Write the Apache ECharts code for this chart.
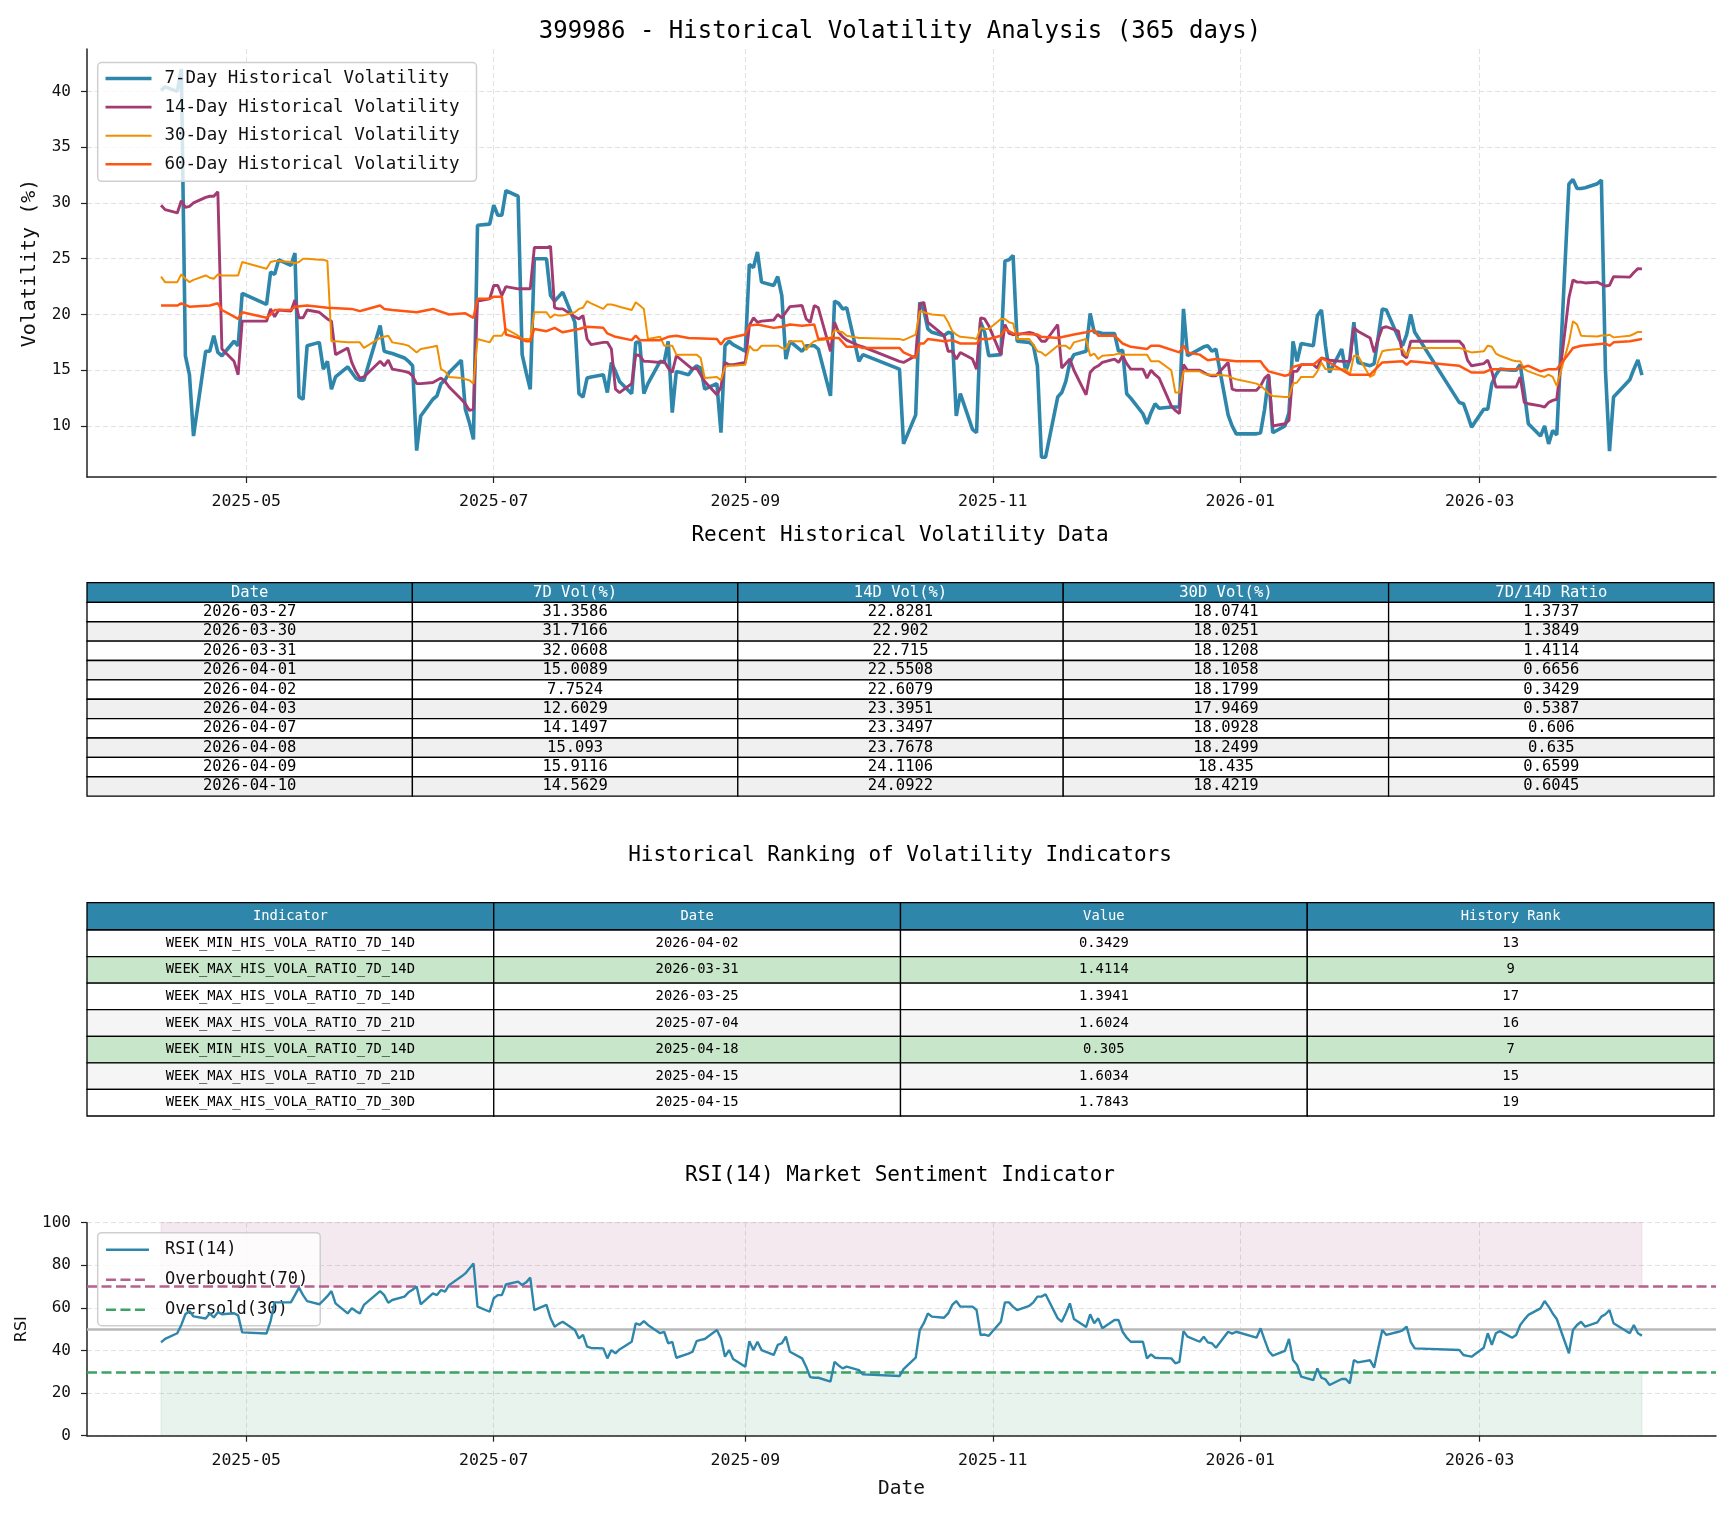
<!DOCTYPE html>
<html><head><meta charset="utf-8">
<script src="https://cdn.jsdelivr.net/npm/echarts@6/dist/echarts.min.js"></script>
<style>html,body{margin:0;padding:0;background:#fff}#c{width:1729px;height:1513px}</style>
</head><body><div id="c"></div>
<script>
// ---------------- DATA ----------------
const titleMain = '399986 - Historical Volatility Analysis (365 days)';
const titleTable1 = 'Recent Historical Volatility Data';
const titleTable2 = 'Historical Ranking of Volatility Indicators';
const titleRsi = 'RSI(14) Market Sentiment Indicator';
const seriesNames = ['7-Day Historical Volatility','14-Day Historical Volatility','30-Day Historical Volatility','60-Day Historical Volatility'];

const vol7 = [
['2025-04-10',40.1],['2025-04-11',40.4],['2025-04-14',40.0],['2025-04-15',42.0],['2025-04-16',16.3],['2025-04-17',14.6],['2025-04-18',9.1],
['2025-04-21',16.7],['2025-04-22',16.7],['2025-04-23',18.1],['2025-04-24',16.6],['2025-04-25',16.3],['2025-04-28',17.6],['2025-04-29',17.2],['2025-04-30',21.9],
['2025-05-06',20.9],['2025-05-07',23.8],['2025-05-08',23.6],['2025-05-09',24.9],['2025-05-12',24.4],['2025-05-13',25.5],['2025-05-14',12.6],['2025-05-15',12.4],
['2025-05-16',17.2],['2025-05-19',17.5],['2025-05-20',15.1],['2025-05-21',15.8],['2025-05-22',13.3],['2025-05-23',14.4],['2025-05-26',15.3],['2025-05-27',14.8],
['2025-05-28',14.3],['2025-05-29',14.1],['2025-05-30',14.1],['2025-06-03',19.0],['2025-06-04',16.7],['2025-06-05',16.6],['2025-06-06',16.5],['2025-06-09',16.1],
['2025-06-10',15.8],['2025-06-11',15.4],['2025-06-12',7.8],['2025-06-13',10.9],['2025-06-16',12.4],['2025-06-17',12.7],['2025-06-18',13.8],['2025-06-19',14.1],
['2025-06-20',14.8],['2025-06-23',15.9],['2025-06-24',11.5],['2025-06-25',10.3],['2025-06-26',8.8],['2025-06-27',28.0],['2025-06-30',28.1],['2025-07-01',29.8],
['2025-07-02',28.9],['2025-07-03',28.9],['2025-07-04',31.1],['2025-07-07',30.6],['2025-07-08',16.4],['2025-07-09',14.8],['2025-07-10',13.3],['2025-07-11',25.0],
['2025-07-14',25.0],['2025-07-15',21.7],['2025-07-16',21.2],['2025-07-17',21.6],['2025-07-18',22.0],['2025-07-21',19.3],['2025-07-22',12.9],['2025-07-23',12.6],
['2025-07-24',14.3],['2025-07-25',14.4],['2025-07-28',14.6],['2025-07-29',13.0],['2025-07-30',15.7],['2025-07-31',14.9],['2025-08-01',14.0],['2025-08-04',12.9],
['2025-08-05',17.5],['2025-08-06',17.5],['2025-08-07',12.9],['2025-08-08',13.8],['2025-08-11',15.8],['2025-08-12',15.7],['2025-08-13',17.6],['2025-08-14',11.2],
['2025-08-15',14.9],['2025-08-18',14.6],['2025-08-19',15.1],['2025-08-20',15.4],['2025-08-21',15.2],['2025-08-22',13.3],['2025-08-25',13.8],['2025-08-26',9.4],
['2025-08-27',17.2],['2025-08-28',17.6],['2025-08-29',17.3],['2025-09-01',16.7],['2025-09-02',24.5],['2025-09-03',24.2],['2025-09-04',25.6],['2025-09-05',22.9],
['2025-09-08',22.6],['2025-09-09',23.4],['2025-09-10',21.7],['2025-09-11',16.0],['2025-09-12',17.6],['2025-09-15',16.7],['2025-09-16',17.2],['2025-09-17',17.2],
['2025-09-18',17.2],['2025-09-19',16.9],['2025-09-22',12.7],['2025-09-23',21.2],['2025-09-24',21.0],['2025-09-25',20.5],['2025-09-26',20.6],['2025-09-29',15.8],
['2025-09-30',16.4],['2025-10-09',15.1],['2025-10-10',8.4],['2025-10-13',11.0],['2025-10-14',21.1],['2025-10-15',20.4],['2025-10-16',18.7],['2025-10-17',18.4],
['2025-10-20',18.1],['2025-10-21',18.4],['2025-10-22',18.3],['2025-10-23',10.9],['2025-10-24',12.9],['2025-10-27',9.7],['2025-10-28',9.4],['2025-10-29',19.3],
['2025-10-30',18.4],['2025-10-31',16.3],['2025-11-03',16.4],['2025-11-04',24.8],['2025-11-05',24.9],['2025-11-06',25.3],['2025-11-07',17.6],['2025-11-10',17.5],
['2025-11-11',17.2],['2025-11-12',15.4],['2025-11-13',7.2],['2025-11-14',7.2],['2025-11-17',12.6],['2025-11-18',13.0],['2025-11-19',14.0],['2025-11-20',15.7],
['2025-11-21',16.4],['2025-11-24',16.7],['2025-11-25',20.1],['2025-11-26',18.4],['2025-11-27',18.4],['2025-11-28',18.3],['2025-12-01',18.3],['2025-12-02',16.7],
['2025-12-03',16.8],['2025-12-04',12.9],['2025-12-05',12.5],['2025-12-08',11.1],['2025-12-09',10.2],['2025-12-10',11.2],['2025-12-11',12.0],['2025-12-12',11.6],
['2025-12-15',11.7],['2025-12-16',11.7],['2025-12-17',11.7],['2025-12-18',20.5],['2025-12-19',16.3],['2025-12-22',16.9],['2025-12-23',17.1],['2025-12-24',17.2],
['2025-12-25',16.7],['2025-12-26',16.9],['2025-12-29',11.0],['2025-12-30',10.0],['2025-12-31',9.3],['2026-01-05',9.3],['2026-01-06',9.4],['2026-01-07',11.5],
['2026-01-08',14.5],['2026-01-09',9.4],['2026-01-12',10.0],['2026-01-13',11.2],['2026-01-14',17.6],['2026-01-15',15.8],['2026-01-16',17.4],['2026-01-19',17.2],
['2026-01-20',19.9],['2026-01-21',20.4],['2026-01-22',17.2],['2026-01-23',14.8],['2026-01-26',16.9],['2026-01-27',14.9],['2026-01-28',16.0],['2026-01-29',19.3],
['2026-01-30',15.7],['2026-02-02',15.4],['2026-02-03',15.6],['2026-02-04',18.0],['2026-02-05',20.5],['2026-02-06',20.4],['2026-02-09',17.9],['2026-02-10',17.2],
['2026-02-11',18.2],['2026-02-12',20.0],['2026-02-13',18.4],['2026-02-24',12.1],['2026-02-25',12.0],['2026-02-26',11.0],['2026-02-27',9.9],['2026-03-02',11.5],
['2026-03-03',11.5],['2026-03-04',13.8],['2026-03-05',14.6],['2026-03-06',15.1],['2026-03-09',15.0],['2026-03-10',15.0],['2026-03-11',15.5],['2026-03-12',13.0],
['2026-03-13',10.2],['2026-03-16',9.1],['2026-03-17',10.0],['2026-03-18',8.4],['2026-03-19',9.6],['2026-03-20',9.2],['2026-03-23',31.7],['2026-03-24',32.1],
['2026-03-25',31.3],['2026-03-26',31.3],['2026-03-27',31.3586],['2026-03-30',31.7166],['2026-03-31',32.0608],['2026-04-01',15.0089],['2026-04-02',7.7524],
['2026-04-03',12.6029],['2026-04-07',14.1497],['2026-04-08',15.093],['2026-04-09',15.9116],['2026-04-10',14.5629]
];

const vol14 = [
['2025-04-10',29.8],['2025-04-11',29.4],['2025-04-14',29.1],['2025-04-15',30.2],['2025-04-16',29.6],['2025-04-17',29.7],['2025-04-18',30.0],['2025-04-21',30.5],
['2025-04-22',30.6],['2025-04-23',30.6],['2025-04-24',31.0],['2025-04-25',16.9],['2025-04-28',15.8],['2025-04-29',14.6],['2025-04-30',19.4],['2025-05-06',19.4],
['2025-05-07',20.5],['2025-05-08',19.8],['2025-05-09',20.4],['2025-05-12',20.3],['2025-05-13',21.3],['2025-05-14',19.7],['2025-05-15',19.7],['2025-05-16',20.4],
['2025-05-19',20.2],['2025-05-20',19.9],['2025-05-21',19.6],['2025-05-22',19.4],['2025-05-23',16.4],['2025-05-26',17.0],['2025-05-27',15.7],['2025-05-28',14.9],
['2025-05-29',14.3],['2025-05-30',14.4],['2025-06-03',15.8],['2025-06-04',15.4],['2025-06-05',15.9],['2025-06-06',15.1],['2025-06-09',14.9],['2025-06-10',14.8],
['2025-06-11',14.5],['2025-06-12',13.8],['2025-06-13',13.8],['2025-06-16',13.9],['2025-06-17',14.1],['2025-06-18',14.3],['2025-06-19',14.0],['2025-06-20',13.5],
['2025-06-23',12.4],['2025-06-24',12.0],['2025-06-25',11.4],['2025-06-26',11.5],['2025-06-27',21.2],['2025-06-30',21.4],['2025-07-01',22.6],['2025-07-02',22.6],
['2025-07-03',21.7],['2025-07-04',22.5],['2025-07-07',22.3],['2025-07-08',22.3],['2025-07-09',22.3],['2025-07-10',22.3],['2025-07-11',26.0],['2025-07-14',26.0],
['2025-07-15',26.1],['2025-07-16',20.6],['2025-07-17',20.5],['2025-07-18',20.5],['2025-07-21',19.8],['2025-07-22',19.6],['2025-07-23',19.9],['2025-07-24',17.8],
['2025-07-25',17.3],['2025-07-28',17.5],['2025-07-29',17.5],['2025-07-30',16.9],['2025-07-31',13.3],['2025-08-01',13.0],['2025-08-04',13.8],['2025-08-05',16.4],
['2025-08-06',16.3],['2025-08-07',15.8],['2025-08-08',15.8],['2025-08-11',15.7],['2025-08-12',15.8],['2025-08-13',15.2],['2025-08-14',14.8],['2025-08-15',16.3],
['2025-08-18',15.4],['2025-08-19',15.1],['2025-08-20',15.2],['2025-08-21',14.6],['2025-08-22',14.0],['2025-08-25',12.8],['2025-08-26',13.5],['2025-08-27',15.7],
['2025-08-28',15.5],['2025-08-29',15.5],['2025-09-01',15.7],['2025-09-02',19.0],['2025-09-03',19.7],['2025-09-04',19.3],['2025-09-05',19.4],['2025-09-08',19.5],
['2025-09-09',20.0],['2025-09-10',19.7],['2025-09-11',20.2],['2025-09-12',20.7],['2025-09-15',20.8],['2025-09-16',19.6],['2025-09-17',19.3],['2025-09-18',20.8],
['2025-09-19',20.6],['2025-09-22',16.7],['2025-09-23',19.3],['2025-09-24',18.4],['2025-09-25',18.0],['2025-09-26',17.7],['2025-09-29',17.2],['2025-09-30',17.1],
['2025-10-09',15.8],['2025-10-10',15.7],['2025-10-13',16.3],['2025-10-14',20.9],['2025-10-15',21.1],['2025-10-16',19.3],['2025-10-17',19.0],['2025-10-20',18.1],
['2025-10-21',16.7],['2025-10-22',16.7],['2025-10-23',16.0],['2025-10-24',16.6],['2025-10-27',16.0],['2025-10-28',15.1],['2025-10-29',19.7],['2025-10-30',19.6],
['2025-10-31',19.0],['2025-11-03',16.4],['2025-11-04',19.1],['2025-11-05',18.3],['2025-11-06',18.2],['2025-11-07',18.2],['2025-11-10',18.4],['2025-11-11',18.3],
['2025-11-12',18.1],['2025-11-13',17.6],['2025-11-14',17.6],['2025-11-17',19.1],['2025-11-18',15.2],['2025-11-19',15.6],['2025-11-20',16.0],['2025-11-21',15.0],
['2025-11-24',12.8],['2025-11-25',14.8],['2025-11-26',15.2],['2025-11-27',15.4],['2025-11-28',15.7],['2025-12-01',16.0],['2025-12-02',15.7],['2025-12-03',16.3],
['2025-12-04',15.6],['2025-12-05',15.1],['2025-12-08',15.1],['2025-12-09',14.3],['2025-12-10',15.0],['2025-12-11',14.6],['2025-12-12',14.3],['2025-12-15',11.8],
['2025-12-16',11.4],['2025-12-17',11.1],['2025-12-18',15.5],['2025-12-19',15.0],['2025-12-22',15.0],['2025-12-23',14.8],['2025-12-24',14.6],['2025-12-25',14.5],
['2025-12-26',14.5],['2025-12-29',15.7],['2025-12-30',13.3],['2025-12-31',13.2],['2026-01-05',13.2],['2026-01-06',13.6],['2026-01-07',14.3],['2026-01-08',14.6],
['2026-01-09',10.0],['2026-01-12',10.2],['2026-01-13',10.5],['2026-01-14',14.9],['2026-01-15',14.9],['2026-01-16',15.5],['2026-01-19',15.5],['2026-01-20',15.2],
['2026-01-21',16.1],['2026-01-22',16.0],['2026-01-23',15.9],['2026-01-26',15.8],['2026-01-27',15.8],['2026-01-28',15.8],['2026-01-29',18.8],['2026-01-30',18.5],
['2026-02-02',17.9],['2026-02-03',16.6],['2026-02-04',17.8],['2026-02-05',18.8],['2026-02-06',18.9],['2026-02-09',18.5],['2026-02-10',16.4],['2026-02-11',16.1],
['2026-02-12',17.6],['2026-02-13',17.6],['2026-02-24',17.6],['2026-02-25',17.2],['2026-02-26',15.9],['2026-02-27',15.4],['2026-03-02',15.6],['2026-03-03',15.9],
['2026-03-04',14.9],['2026-03-05',13.5],['2026-03-06',13.5],['2026-03-09',13.5],['2026-03-10',13.5],['2026-03-11',14.4],['2026-03-12',12.1],['2026-03-13',12.0],
['2026-03-16',11.8],['2026-03-17',11.7],['2026-03-18',12.1],['2026-03-19',12.3],['2026-03-20',12.4],['2026-03-23',21.5],['2026-03-24',23.1],['2026-03-25',22.9],
['2026-03-26',22.9],['2026-03-27',22.8281],['2026-03-30',22.902],['2026-03-31',22.715],['2026-04-01',22.5508],['2026-04-02',22.6079],['2026-04-03',23.3951],
['2026-04-07',23.3497],['2026-04-08',23.7678],['2026-04-09',24.1106],['2026-04-10',24.0922]
];

const vol30 = [
['2025-04-10',23.4],['2025-04-11',22.9],['2025-04-14',22.9],['2025-04-15',23.6],['2025-04-16',23.2],['2025-04-17',22.9],['2025-04-18',23.1],['2025-04-21',23.5],
['2025-04-22',23.3],['2025-04-23',23.2],['2025-04-24',23.6],['2025-04-25',23.5],['2025-04-28',23.5],['2025-04-29',23.5],['2025-04-30',24.7],['2025-05-06',24.1],
['2025-05-07',24.7],['2025-05-08',24.8],['2025-05-09',24.8],['2025-05-12',24.7],['2025-05-13',24.6],['2025-05-14',24.7],['2025-05-15',25.0],['2025-05-16',25.0],
['2025-05-19',24.9],['2025-05-20',24.9],['2025-05-21',24.8],['2025-05-22',17.6],['2025-05-23',17.6],['2025-05-26',17.5],['2025-05-27',17.5],['2025-05-28',17.5],
['2025-05-29',17.5],['2025-05-30',17.0],['2025-06-03',17.9],['2025-06-04',18.0],['2025-06-05',18.1],['2025-06-06',17.5],['2025-06-09',17.3],['2025-06-10',17.2],
['2025-06-11',16.9],['2025-06-12',16.6],['2025-06-13',16.9],['2025-06-16',17.1],['2025-06-17',17.2],['2025-06-18',15.1],['2025-06-19',14.9],['2025-06-20',14.4],
['2025-06-23',14.3],['2025-06-24',14.2],['2025-06-25',14.1],['2025-06-26',13.8],['2025-06-27',17.8],['2025-06-30',17.5],['2025-07-01',18.1],['2025-07-02',18.1],
['2025-07-03',18.1],['2025-07-04',18.7],['2025-07-07',18.1],['2025-07-08',17.8],['2025-07-09',17.8],['2025-07-10',17.8],['2025-07-11',20.2],['2025-07-14',20.2],
['2025-07-15',19.7],['2025-07-16',20.0],['2025-07-17',19.9],['2025-07-18',19.9],['2025-07-21',20.2],['2025-07-22',20.5],['2025-07-23',20.6],['2025-07-24',21.2],
['2025-07-25',21.0],['2025-07-28',20.5],['2025-07-29',20.9],['2025-07-30',20.9],['2025-07-31',20.8],['2025-08-01',20.7],['2025-08-04',20.4],['2025-08-05',21.1],
['2025-08-06',20.8],['2025-08-07',20.5],['2025-08-08',17.8],['2025-08-11',18.0],['2025-08-12',17.2],['2025-08-13',17.2],['2025-08-14',17.2],['2025-08-15',16.4],
['2025-08-18',16.4],['2025-08-19',16.4],['2025-08-20',16.4],['2025-08-21',16.1],['2025-08-22',14.3],['2025-08-25',14.4],['2025-08-26',14.1],['2025-08-27',15.3],
['2025-08-28',15.4],['2025-08-29',15.4],['2025-09-01',15.5],['2025-09-02',17.2],['2025-09-03',16.8],['2025-09-04',16.8],['2025-09-05',17.2],['2025-09-08',17.2],
['2025-09-09',17.2],['2025-09-10',17.0],['2025-09-11',16.9],['2025-09-12',17.6],['2025-09-15',17.6],['2025-09-16',16.8],['2025-09-17',17.3],['2025-09-18',17.6],
['2025-09-19',17.7],['2025-09-22',17.8],['2025-09-23',18.6],['2025-09-24',18.5],['2025-09-25',18.4],['2025-09-26',18.1],['2025-09-29',17.9],['2025-09-30',17.9],
['2025-10-09',17.8],['2025-10-10',17.7],['2025-10-13',18.2],['2025-10-14',20.3],['2025-10-15',20.2],['2025-10-16',20.1],['2025-10-17',20.0],['2025-10-20',19.9],
['2025-10-21',19.3],['2025-10-22',18.5],['2025-10-23',18.2],['2025-10-24',18.0],['2025-10-27',17.9],['2025-10-28',17.8],['2025-10-29',18.8],['2025-10-30',18.7],
['2025-10-31',18.7],['2025-11-03',19.6],['2025-11-04',19.6],['2025-11-05',19.3],['2025-11-06',19.2],['2025-11-07',17.8],['2025-11-10',17.8],['2025-11-11',17.3],
['2025-11-12',16.7],['2025-11-13',16.6],['2025-11-14',16.3],['2025-11-17',17.2],['2025-11-18',17.2],['2025-11-19',17.2],['2025-11-20',16.9],['2025-11-21',17.5],
['2025-11-24',17.8],['2025-11-25',16.3],['2025-11-26',16.5],['2025-11-27',16.0],['2025-11-28',16.3],['2025-12-01',16.4],['2025-12-02',16.5],['2025-12-03',16.4],
['2025-12-04',16.4],['2025-12-05',16.4],['2025-12-08',16.4],['2025-12-09',16.4],['2025-12-10',15.8],['2025-12-11',15.8],['2025-12-12',15.8],['2025-12-15',15.0],
['2025-12-16',13.0],['2025-12-17',13.0],['2025-12-18',14.9],['2025-12-19',14.9],['2025-12-22',14.9],['2025-12-23',14.7],['2025-12-24',14.6],['2025-12-25',14.6],
['2025-12-26',14.6],['2025-12-29',14.5],['2025-12-30',14.3],['2025-12-31',14.2],['2026-01-05',13.8],['2026-01-06',13.6],['2026-01-07',13.3],['2026-01-08',12.9],
['2026-01-09',12.7],['2026-01-12',12.6],['2026-01-13',12.6],['2026-01-14',13.8],['2026-01-15',13.9],['2026-01-16',14.4],['2026-01-19',14.4],['2026-01-20',14.9],
['2026-01-21',15.7],['2026-01-22',15.1],['2026-01-23',15.1],['2026-01-26',15.1],['2026-01-27',15.1],['2026-01-28',14.6],['2026-01-29',16.3],['2026-01-30',16.3],
['2026-02-02',14.4],['2026-02-03',14.6],['2026-02-04',15.8],['2026-02-05',16.7],['2026-02-06',16.8],['2026-02-09',16.9],['2026-02-10',16.9],['2026-02-11',16.3],
['2026-02-12',17.0],['2026-02-13',17.0],['2026-02-24',17.0],['2026-02-25',16.9],['2026-02-26',16.7],['2026-02-27',16.6],['2026-03-02',16.7],['2026-03-03',17.2],
['2026-03-04',17.1],['2026-03-05',16.5],['2026-03-06',16.3],['2026-03-09',15.9],['2026-03-10',15.8],['2026-03-11',15.8],['2026-03-12',15.1],['2026-03-13',14.9],
['2026-03-16',14.5],['2026-03-17',14.4],['2026-03-18',14.6],['2026-03-19',14.4],['2026-03-20',13.6],['2026-03-23',17.5],['2026-03-24',19.4],['2026-03-25',19.1],
['2026-03-26',18.1],['2026-03-27',18.0741],['2026-03-30',18.0251],['2026-03-31',18.1208],['2026-04-01',18.1058],['2026-04-02',18.1799],['2026-04-03',17.9469],
['2026-04-07',18.0928],['2026-04-08',18.2499],['2026-04-09',18.435],['2026-04-10',18.4219]
];

const vol60 = [
['2025-04-10',20.8],['2025-04-14',20.8],['2025-04-15',21.0],['2025-04-17',20.7],['2025-04-22',20.8],['2025-04-24',21.0],['2025-04-25',20.4],['2025-04-28',19.8],
['2025-04-29',19.6],['2025-04-30',20.2],['2025-05-06',19.7],['2025-05-07',20.0],['2025-05-08',20.4],['2025-05-12',20.4],['2025-05-13',20.7],['2025-05-16',20.8],
['2025-05-21',20.6],['2025-05-27',20.5],['2025-05-29',20.3],['2025-05-30',20.4],['2025-06-03',20.8],['2025-06-04',20.5],['2025-06-06',20.4],['2025-06-12',20.2],
['2025-06-16',20.5],['2025-06-20',20.0],['2025-06-24',20.1],['2025-06-26',19.7],['2025-06-27',21.4],['2025-06-30',21.4],['2025-07-01',21.6],['2025-07-03',21.6],
['2025-07-04',18.2],['2025-07-07',17.9],['2025-07-09',17.6],['2025-07-10',17.6],['2025-07-11',18.7],['2025-07-14',18.5],['2025-07-16',18.8],['2025-07-18',18.4],
['2025-07-22',18.7],['2025-07-24',18.9],['2025-07-28',18.8],['2025-07-29',18.3],['2025-07-31',18.0],['2025-08-04',17.7],['2025-08-05',18.1],['2025-08-06',17.7],
['2025-08-11',17.7],['2025-08-13',18.0],['2025-08-15',18.1],['2025-08-18',17.9],['2025-08-25',17.8],['2025-08-26',17.3],['2025-08-27',17.8],['2025-09-01',18.2],
['2025-09-02',19.0],['2025-09-04',19.1],['2025-09-08',18.8],['2025-09-10',18.9],['2025-09-12',19.1],['2025-09-15',19.0],['2025-09-18',19.1],['2025-09-19',17.8],
['2025-09-22',17.9],['2025-09-24',17.9],['2025-09-26',17.1],['2025-09-29',17.1],['2025-09-30',17.0],['2025-10-09',17.0],['2025-10-10',16.6],['2025-10-13',16.1],
['2025-10-14',17.4],['2025-10-15',17.4],['2025-10-16',17.8],['2025-10-20',17.6],['2025-10-22',17.7],['2025-10-24',17.4],['2025-10-28',17.4],['2025-10-29',17.8],
['2025-10-31',17.8],['2025-11-03',18.1],['2025-11-04',18.7],['2025-11-06',18.3],['2025-11-12',18.2],['2025-11-13',18.0],['2025-11-17',17.9],['2025-11-21',18.2],
['2025-11-24',18.4],['2025-11-26',18.6],['2025-11-27',18.1],['2025-12-01',18.1],['2025-12-03',17.4],['2025-12-05',17.1],['2025-12-09',16.9],['2025-12-10',17.2],
['2025-12-12',17.2],['2025-12-17',16.6],['2025-12-18',17.2],['2025-12-19',16.6],['2025-12-22',16.4],['2025-12-24',15.9],['2025-12-26',16.0],['2025-12-31',15.8],
['2026-01-06',15.8],['2026-01-07',15.3],['2026-01-08',14.9],['2026-01-12',14.5],['2026-01-13',14.6],['2026-01-14',15.3],['2026-01-16',15.5],['2026-01-19',15.5],
['2026-01-21',16.1],['2026-01-22',15.9],['2026-01-28',14.6],['2026-02-02',14.6],['2026-02-05',15.7],['2026-02-10',15.8],['2026-02-11',15.5],['2026-02-12',15.8],
['2026-02-24',15.4],['2026-02-27',14.8],['2026-03-02',14.8],['2026-03-04',15.1],['2026-03-10',15.1],['2026-03-12',15.3],['2026-03-13',15.4],['2026-03-16',14.9],
['2026-03-18',15.1],['2026-03-20',15.1],['2026-03-23',16.5],['2026-03-24',17.0],['2026-03-26',17.2],['2026-04-01',17.4],['2026-04-02',17.2],['2026-04-03',17.5],
['2026-04-07',17.6],['2026-04-10',17.8]
];

const rsi14 = [
['2025-04-10',43.8],['2025-04-11',45.5],['2025-04-14',48.1],['2025-04-15',52.0],['2025-04-16',57.0],['2025-04-17',58.5],['2025-04-18',56.0],['2025-04-21',55.0],
['2025-04-22',57.4],['2025-04-23',55.5],['2025-04-24',58.0],['2025-04-25',57.0],['2025-04-28',57.5],['2025-04-29',56.5],['2025-04-30',48.5],['2025-05-06',48.0],
['2025-05-07',53.8],['2025-05-08',62.6],['2025-05-09',62.6],['2025-05-12',62.6],['2025-05-13',66.0],['2025-05-14',69.5],['2025-05-15',66.0],['2025-05-16',63.2],
['2025-05-19',61.7],['2025-05-20',63.5],['2025-05-21',65.5],['2025-05-22',67.9],['2025-05-23',62.1],['2025-05-26',57.4],['2025-05-27',59.8],['2025-05-28',58.5],
['2025-05-29',57.4],['2025-05-30',61.4],['2025-06-03',67.9],['2025-06-04',66.0],['2025-06-05',62.4],['2025-06-06',63.7],['2025-06-09',65.3],['2025-06-10',67.3],
['2025-06-11',68.5],['2025-06-12',70.0],['2025-06-13',61.7],['2025-06-16',66.8],['2025-06-17',66.0],['2025-06-18',68.4],['2025-06-19',67.6],['2025-06-20',70.7],
['2025-06-23',74.7],['2025-06-24',76.2],['2025-06-25',78.5],['2025-06-26',80.9],['2025-06-27',60.6],['2025-06-30',58.2],['2025-07-01',64.5],['2025-07-02',66.0],
['2025-07-03',66.0],['2025-07-04',71.0],['2025-07-07',72.3],['2025-07-08',70.7],['2025-07-09',72.0],['2025-07-10',74.2],['2025-07-11',59.0],['2025-07-14',61.4],
['2025-07-15',55.1],['2025-07-16',51.2],['2025-07-17',52.5],['2025-07-18',53.5],['2025-07-21',49.6],['2025-07-22',45.7],['2025-07-23',47.3],['2025-07-24',41.8],
['2025-07-25',41.2],['2025-07-28',41.0],['2025-07-29',36.3],['2025-07-30',40.2],['2025-07-31',38.7],['2025-08-01',40.5],['2025-08-04',44.1],['2025-08-05',52.8],
['2025-08-06',52.0],['2025-08-07',53.8],['2025-08-08',52.0],['2025-08-11',48.1],['2025-08-12',48.8],['2025-08-13',43.4],['2025-08-14',44.1],['2025-08-15',36.6],
['2025-08-18',38.5],['2025-08-19',39.4],['2025-08-20',44.4],['2025-08-21',45.0],['2025-08-22',45.4],['2025-08-25',49.6],['2025-08-26',45.7],['2025-08-27',37.1],
['2025-08-28',40.2],['2025-08-29',36.0],['2025-09-01',32.4],['2025-09-02',44.4],['2025-09-03',40.2],['2025-09-04',44.1],['2025-09-05',40.2],['2025-09-08',37.9],
['2025-09-09',42.6],['2025-09-10',43.4],['2025-09-11',46.5],['2025-09-12',39.4],['2025-09-15',36.3],['2025-09-16',32.4],['2025-09-17',27.5],['2025-09-18',27.2],
['2025-09-19',27.2],['2025-09-22',25.4],['2025-09-23',34.7],['2025-09-24',33.0],['2025-09-25',31.6],['2025-09-26',32.4],['2025-09-29',30.8],['2025-09-30',28.8],
['2025-10-09',28.0],['2025-10-10',31.3],['2025-10-13',36.6],['2025-10-14',49.6],['2025-10-15',52.8],['2025-10-16',57.4],['2025-10-17',55.9],['2025-10-20',55.4],
['2025-10-21',57.4],['2025-10-22',61.4],['2025-10-23',63.2],['2025-10-24',60.6],['2025-10-27',60.6],['2025-10-28',59.0],['2025-10-29',47.3],['2025-10-30',47.5],
['2025-10-31',46.9],['2025-11-03',53.5],['2025-11-04',62.6],['2025-11-05',62.6],['2025-11-06',60.5],['2025-11-07',59.0],['2025-11-10',61.0],['2025-11-11',62.6],
['2025-11-12',65.3],['2025-11-13',65.3],['2025-11-14',66.4],['2025-11-17',55.1],['2025-11-18',53.5],['2025-11-19',57.5],['2025-11-20',62.1],['2025-11-21',54.8],
['2025-11-24',51.0],['2025-11-25',57.0],['2025-11-26',52.8],['2025-11-27',55.1],['2025-11-28',50.4],['2025-12-01',54.3],['2025-12-02',54.3],['2025-12-03',48.8],
['2025-12-04',46.0],['2025-12-05',44.1],['2025-12-08',44.1],['2025-12-09',36.3],['2025-12-10',38.2],['2025-12-11',36.6],['2025-12-12',36.5],['2025-12-15',36.3],
['2025-12-16',34.0],['2025-12-17',34.7],['2025-12-18',49.1],['2025-12-19',46.5],['2025-12-22',44.1],['2025-12-23',46.5],['2025-12-24',43.8],['2025-12-25',43.4],
['2025-12-26',41.3],['2025-12-29',48.8],['2025-12-30',47.9],['2025-12-31',48.8],['2026-01-05',46.0],['2026-01-06',50.4],['2026-01-07',45.0],['2026-01-08',39.8],
['2026-01-09',37.6],['2026-01-12',39.8],['2026-01-13',45.4],['2026-01-14',35.5],['2026-01-15',33.2],['2026-01-16',27.7],['2026-01-19',26.1],['2026-01-20',31.6],
['2026-01-21',27.2],['2026-01-22',26.4],['2026-01-23',23.8],['2026-01-26',26.6],['2026-01-27',26.6],['2026-01-28',24.6],['2026-01-29',35.5],['2026-01-30',34.4],
['2026-02-02',35.4],['2026-02-03',32.0],['2026-02-04',41.0],['2026-02-05',49.6],['2026-02-06',47.3],['2026-02-09',48.8],['2026-02-10',49.5],['2026-02-11',51.2],
['2026-02-12',44.1],['2026-02-13',41.0],['2026-02-24',40.2],['2026-02-25',37.9],['2026-02-26',37.5],['2026-02-27',37.1],['2026-03-02',41.3],['2026-03-03',48.1],
['2026-03-04',42.6],['2026-03-05',48.1],['2026-03-06',49.1],['2026-03-09',46.0],['2026-03-10',47.3],['2026-03-11',52.0],['2026-03-12',54.5],['2026-03-13',56.7],
['2026-03-16',59.8],['2026-03-17',63.2],['2026-03-18',60.6],['2026-03-19',57.4],['2026-03-20',54.8],['2026-03-23',38.7],['2026-03-24',49.6],['2026-03-25',52.0],
['2026-03-26',53.5],['2026-03-27',51.2],['2026-03-30',53.2],['2026-03-31',55.9],['2026-04-01',57.0],['2026-04-02',59.0],['2026-04-03',52.8],['2026-04-07',48.1],
['2026-04-08',52.0],['2026-04-09',48.1],['2026-04-10',47.0]
];

const rsiOverbought = 70;
const rsiOversold = 30;
const rsiMid = 50;

const volTickValues = [10, 15, 20, 25, 30, 35, 40];
const monthTickDates = ['2025-05-01','2025-07-01','2025-09-01','2025-11-01','2026-01-01','2026-03-01'];

const table1Headers = ['Date','7D Vol(%)','14D Vol(%)','30D Vol(%)','7D/14D Ratio'];
const table1Dates = ['2026-03-27','2026-03-30','2026-03-31','2026-04-01','2026-04-02','2026-04-03','2026-04-07','2026-04-08','2026-04-09','2026-04-10'];
const table1Vol7 = ['31.3586','31.7166','32.0608','15.0089','7.7524','12.6029','14.1497','15.093','15.9116','14.5629'];
const table1Vol14 = ['22.8281','22.902','22.715','22.5508','22.6079','23.3951','23.3497','23.7678','24.1106','24.0922'];
const table1Vol30 = ['18.0741','18.0251','18.1208','18.1058','18.1799','17.9469','18.0928','18.2499','18.435','18.4219'];
const table1Ratio = ['1.3737','1.3849','1.4114','0.6656','0.3429','0.5387','0.606','0.635','0.6599','0.6045'];

const table2Headers = ['Indicator','Date','Value','History Rank'];
const table2Indicators = ['WEEK_MIN_HIS_VOLA_RATIO_7D_14D','WEEK_MAX_HIS_VOLA_RATIO_7D_14D','WEEK_MAX_HIS_VOLA_RATIO_7D_14D','WEEK_MAX_HIS_VOLA_RATIO_7D_21D','WEEK_MIN_HIS_VOLA_RATIO_7D_14D','WEEK_MAX_HIS_VOLA_RATIO_7D_21D','WEEK_MAX_HIS_VOLA_RATIO_7D_30D'];
const table2Dates = ['2026-04-02','2026-03-31','2026-03-25','2025-07-04','2025-04-18','2025-04-15','2025-04-15'];
const table2Values = ['0.3429','1.4114','1.3941','1.6024','0.305','1.6034','1.7843'];
const table2Ranks = [13, 9, 17, 16, 7, 15, 19];

// ---------------- HELPERS / STYLE ----------------
const FONT = "'DejaVu Sans Mono', 'Liberation Mono', monospace";
function ts(s){ const p = s.split('-').map(Number); return new Date(p[0], p[1]-1, p[2]).getTime(); }
const toPts = arr => arr.map(d => [ts(d[0]), d[1]]);
function fmtMonth(v){ const d = new Date(v); return d.getFullYear() + '-' + String(d.getMonth()+1).padStart(2,'0'); }

const firstDate = ts(rsi14[0][0]), lastDate = ts(rsi14[rsi14.length-1][0]);
const span = lastDate - firstDate;
const xMin = firstDate - span*0.05, xMax = lastDate + span*0.05;
const monthTicks = monthTickDates.map(ts);

const AX = '#222';
const GRIDC = '#e1e1e1';
const colors = ['#2E86AB', '#A23B72', '#F18F01', '#FF5511'];
const widths = [3.6, 2.9, 2.0, 2.5];

function xAxis(gridIndex, margin, extra){
  return Object.assign({
    type: 'value', gridIndex, min: xMin, max: xMax, scale: true,
    axisLine: { onZero: false, lineStyle: { color: AX, width: 1.5 } },
    axisTick: { show: true, length: 6, lineStyle: { color: AX, width: 1.2 }, customValues: monthTicks },
    axisLabel: { customValues: monthTicks, formatter: fmtMonth, color: '#111', fontFamily: FONT, fontSize: 16.5, margin, showMinLabel: true, showMaxLabel: true },
    splitLine: { show: true, lineStyle: { color: GRIDC, type: [5, 3], width: 1 } }
  }, extra || {});
}

function table(cfg, headers, columns, fills){
  const els = [];
  const n = headers.length, cw = (cfg.right - cfg.left) / n;
  headers.forEach((h, i) => {
    const x = cfg.left + i*cw;
    els.push({ type:'rect', silent:true, shape:{ x, y:cfg.top, width:cw, height:cfg.headH }, style:{ fill:'#2E86AB', stroke:'#000', lineWidth:1.3 } });
    els.push({ type:'text', silent:true, x: x + cw/2, y: cfg.top + cfg.headH/2, style:{ text:h, fill:'#fff', fontFamily:FONT, fontSize:cfg.font, align:'center', verticalAlign:'middle' } });
  });
  const nRows = columns[0].length;
  for (let j = 0; j < nRows; j++){
    const y = cfg.top + cfg.headH + j*cfg.rowH;
    for (let i = 0; i < n; i++){
      const x = cfg.left + i*cw;
      els.push({ type:'rect', silent:true, shape:{ x, y, width:cw, height:cfg.rowH }, style:{ fill:fills[j], stroke:'#000', lineWidth:1.3 } });
      els.push({ type:'text', silent:true, x: x + cw/2, y: y + cfg.rowH/2, style:{ text:String(columns[i][j]), fill:'#000', fontFamily:FONT, fontSize:cfg.font, align:'center', verticalAlign:'middle' } });
    }
  }
  return els;
}
function titleText(text, x, y, size){
  return { type:'text', silent:true, x, y, style:{ text, fill:'#000', fontFamily:FONT, fontSize:size, align:'center', verticalAlign:'middle' } };
}

const t1Fills = table1Dates.map((_, j) => j % 2 ? '#F0F0F0' : '#FFFFFF');
const t2Fills = table2Ranks.map((r, j) => r < 10 ? '#C8E6C9' : (j % 2 ? '#F5F5F5' : '#FFFFFF'));

const graphics = [].concat(
  [titleText(titleMain, 900, 32, 24), titleText(titleTable1, 900, 535.5, 21), titleText(titleTable2, 900, 855.5, 21), titleText(titleRsi, 900, 1175.5, 21)],
  table({ left:87, right:1714, top:582.7, headH:19.7, rowH:19.37, font:15.5 }, table1Headers, [table1Dates, table1Vol7, table1Vol14, table1Vol30, table1Ratio], t1Fills),
  table({ left:87, right:1714, top:902.7, headH:27.3, rowH:26.57, font:13.8 }, table2Headers, [table2Indicators, table2Dates, table2Values, table2Ranks], t2Fills)
);

const volData = [vol7, vol14, vol30, vol60];
const volSeries = volData.map((d, i) => ({
  name: seriesNames[i], type: 'line', xAxisIndex: 0, yAxisIndex: 0,
  data: toPts(d), symbol: 'none', showSymbol: false,
  lineStyle: { color: colors[i], width: widths[i] }, itemStyle: { color: colors[i] },
  z: 3 + i
}));

const legendCommon = {
  orient: 'vertical', itemHeight: 14,
  backgroundColor: 'rgba(255,255,255,0.8)', borderColor: '#cfcfcf', borderWidth: 1.5, borderRadius: 4,
  itemStyle: { opacity: 0, borderWidth: 0 },
  lineStyle: { width: 'inherit', type: 'inherit', color: 'inherit' }
};

const option = {
  animation: false,
  backgroundColor: '#fff',
  grid: [
    { left: 87, width: 1629, top: 49, height: 428 },
    { left: 87, width: 1629, top: 1222.7, height: 213 }
  ],
  xAxis: [
    xAxis(0, 16.5),
    xAxis(1, 16.5, { name: 'Date', nameLocation: 'middle', nameGap: 43.5, nameTextStyle: { fontFamily: FONT, fontSize: 19.5, color: '#111' } })
  ],
  yAxis: [
    { type: 'value', gridIndex: 0, min: 5.43, max: 43.8,
      name: 'Volatility (%)', nameLocation: 'middle', nameGap: 47, nameTextStyle: { fontFamily: FONT, fontSize: 20, color: '#111' },
      axisLine: { show: true, lineStyle: { color: AX, width: 1.5 } },
      axisTick: { show: true, length: 6, lineStyle: { color: AX, width: 1.2 }, customValues: volTickValues },
      axisLabel: { customValues: volTickValues, color: '#111', fontFamily: FONT, fontSize: 16, margin: 16 },
      splitLine: { show: true, lineStyle: { color: GRIDC, type: [5, 3], width: 1 } } },
    { type: 'value', gridIndex: 1, min: 0, max: 100, interval: 20,
      name: 'RSI', nameLocation: 'middle', nameGap: 57, nameTextStyle: { fontFamily: "'DejaVu Sans', sans-serif", fontSize: 16, color: '#111' },
      axisLine: { show: true, lineStyle: { color: AX, width: 1.5 } },
      axisTick: { show: true, length: 6, lineStyle: { color: AX, width: 1.2 } },
      axisLabel: { color: '#111', fontFamily: FONT, fontSize: 16, margin: 16 },
      splitLine: { show: true, lineStyle: { color: GRIDC, type: [5, 3], width: 1 } } }
  ],
  legend: [
    Object.assign({}, legendCommon, { data: seriesNames, left: 97.7, top: 62.5,
      itemWidth: 46, itemGap: 8.6, padding: [6, 17, 7, 6],
      textStyle: { fontFamily: FONT, fontSize: 17.5, color: '#111', lineHeight: 20, padding: [0, 0, 0, 8] } }),
    Object.assign({}, legendCommon, { data: ['RSI(14)', 'Overbought(70)', 'Oversold(30)'], left: 97.7, top: 1232.7,
      itemWidth: 43, itemGap: 10, padding: [7, 12, 6, 7],
      textStyle: { fontFamily: FONT, fontSize: 17, color: '#111', lineHeight: 20, padding: [0, 0, 0, 11] } })
  ],
  graphic: { elements: graphics },
  series: volSeries.concat([
    { name: 'RSI(14)', type: 'line', xAxisIndex: 1, yAxisIndex: 1, data: toPts(rsi14), symbol: 'none', showSymbol: false,
      lineStyle: { color: '#2E86AB', width: 2.4 }, itemStyle: { color: '#2E86AB' }, z: 5,
      markArea: { silent: true, data: [
        [{ xAxis: firstDate, yAxis: rsiOverbought, itemStyle: { color: 'rgba(162,59,114,0.11)', borderColor: 'rgba(162,59,114,0.12)', borderWidth: 1 } }, { xAxis: lastDate, yAxis: 100 }],
        [{ xAxis: firstDate, yAxis: 0, itemStyle: { color: 'rgba(40,140,80,0.10)', borderColor: 'rgba(40,140,80,0.12)', borderWidth: 1 } }, { xAxis: lastDate, yAxis: rsiOversold }]
      ] },
      markLine: { silent: true, symbol: 'none', label: { show: false }, lineStyle: { color: '#b8b8b8', width: 2.6, type: 'solid' }, data: [{ yAxis: rsiMid }] } },
    { name: 'Overbought(70)', type: 'line', xAxisIndex: 1, yAxisIndex: 1, data: [], symbol: 'none',
      lineStyle: { color: '#B5618E', width: 2.5, type: [10, 4.5] }, itemStyle: { color: '#B5618E' }, z: 4,
      markLine: { silent: true, symbol: 'none', label: { show: false }, lineStyle: { color: '#B5618E', width: 2.5, type: [10, 4.5] }, data: [{ yAxis: rsiOverbought }] } },
    { name: 'Oversold(30)', type: 'line', xAxisIndex: 1, yAxisIndex: 1, data: [], symbol: 'none',
      lineStyle: { color: '#3BA364', width: 2.5, type: [10, 4.5] }, itemStyle: { color: '#3BA364' }, z: 4,
      markLine: { silent: true, symbol: 'none', label: { show: false }, lineStyle: { color: '#3BA364', width: 2.5, type: [10, 4.5] }, data: [{ yAxis: rsiOversold }] } }
  ])
};

const chart = echarts.init(document.getElementById('c'), null, { renderer: 'canvas', width: 1729, height: 1513 });
chart.setOption(option);
</script>
</body></html>
